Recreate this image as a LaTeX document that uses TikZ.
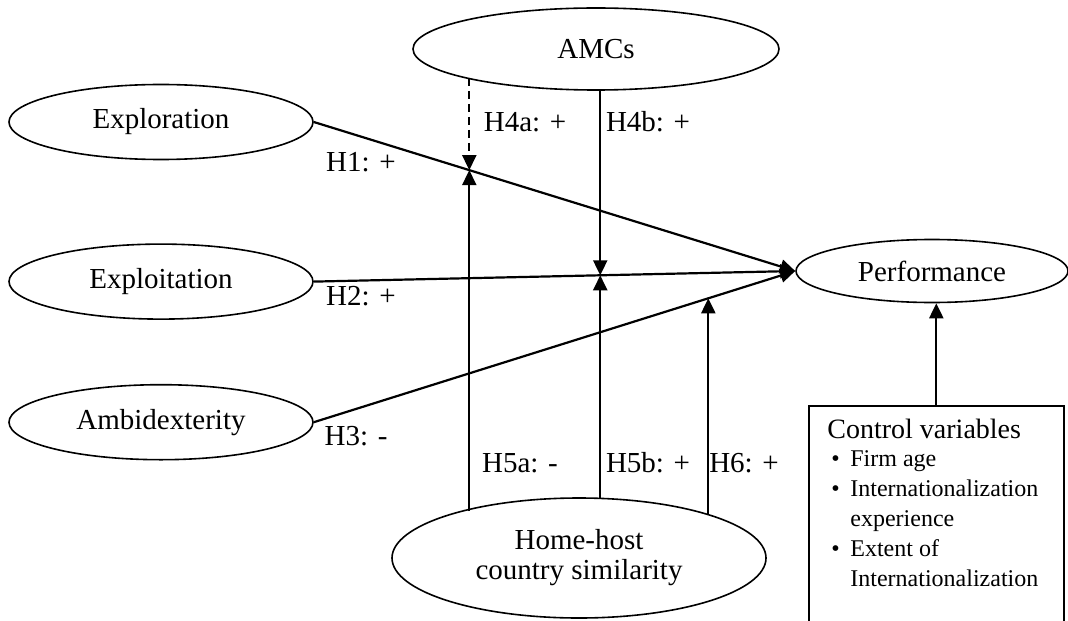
\documentclass[tikz,border=0pt]{standalone}
\usepackage{fontspec}
\setmainfont{Liberation Serif}
\usetikzlibrary{shapes.geometric, positioning, arrows.meta}
\newcommand{\bulletitem}[1]{\makebox[11.5pt][l]{\hspace{2pt}\textbullet}#1}
\begin{document}
\begin{tikzpicture}[x = 0.5pt, y = -0.5pt, font = \fontsize{14.5}{15}\selectfont]%
    %
    \tikzstyle{arrow} = [-{Triangle[length = 7.5pt, width = 7pt]}, draw = black, line width = 1.1pt]%
    \tikzstyle{construct} = [ellipse, draw = black, line width = 0.8pt, inner sep = 0pt, minimum width = 152pt, minimum height = 37.5pt, text = black]%
    \tikzstyle{hyp} = [inner sep = 0pt, text = black]%
    \tikzstyle{ctrlbox} = [rectangle, draw = black, line width = 0.8pt, minimum width = 127.5pt, minimum height = 120pt]%
    %
    \useasboundingbox (0,0) rectangle (1068,620);%
    %
    \node [construct] (exploration) at (161,122) {Exploration};%
    \node [construct, below = 41.5pt of exploration] (exploitation) {Exploitation};%
    \node [construct, below = 32pt of exploitation] (ambidexterity) {Ambidexterity};%
    \node [construct, minimum width = 136pt, minimum height = 31.5pt] (performance) at (932,271) {Performance};%
    \node [construct, minimum width = 183pt, minimum height = 41pt] (amcs) at (596,49) {AMCs};%
    \node [construct, minimum width = 187pt, minimum height = 60pt, align = center] (similarity) at (579,558) {Home-host\\country similarity};%
    \node [ctrlbox, anchor = north west] (controls) at (808,405) {};%
    \node [anchor = north west, align = left, inner sep = 0pt, font = \fontsize{12}{15}\selectfont] (control-list) at ([xshift = 9.5pt, yshift = -7pt] controls.north west) {%
        {\fontsize{14}{15}\selectfont Control variables}\\[-1pt]%
        \bulletitem{Firm age}\\%
        \bulletitem{Internationalization}\\%
        \hspace*{11.5pt}experience\\%
        \bulletitem{Extent of}\\%
        \hspace*{11.5pt}Internationalization};%
    %
    \path [arrow] (exploration.east) -- (performance.west) coordinate [pos = 0.323] (M1);%
    \path [arrow] (exploitation.east) -- (performance.west) coordinate [pos = 0.595] (M2);%
    \path [arrow] (ambidexterity.east) -- (performance.west) coordinate [pos = 0.8195] (M3);%
    \path [arrow] (controls.north) -- (controls.north |- performance.south);%
    %
    \coordinate (A1) at (M1 |- 0,78);%
    \coordinate (A2) at (M2 |- 0,90);%
    \coordinate (S1) at (M1 |- 0,511);%
    \coordinate (S2) at (M2 |- 0,498);%
    \coordinate (S3) at (M3 |- 0,515);%
    %
    \path [arrow, dash pattern = on 4pt off 2.5pt] (A1) -- (M1);%
    \path [arrow] (A2) -- (M2);%
    \path [arrow] (S1) -- (M1);%
    \path [arrow] (S2) -- (M2);%
    \path [arrow] (S3) -- (M3);%
    %
    \node [hyp] (H1) at (361,162) {H1: +};%
    \node [hyp] (H2) at (361,296) {H2: +};%
    \node [hyp] (H3) at (356,436) {H3: -};%
    \node [hyp] (H4a) at (525,122) {H4a: +};%
    \node [hyp] (H4b) at (648,122) {H4b: +};%
    \node [hyp] (H5a) at (520,463) {H5a: -};%
    \node [hyp] (H5b) at (648,463) {H5b: +};%
    \node [hyp] (H6) at (744,463) {H6: +};%
    %
\end{tikzpicture}
\end{document}
